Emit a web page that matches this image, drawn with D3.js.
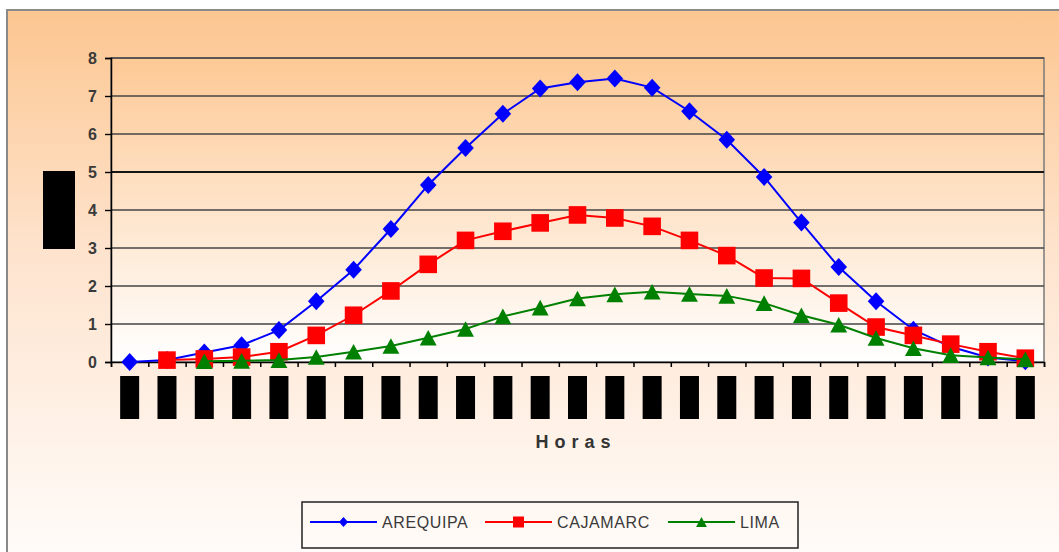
<!DOCTYPE html>
<html>
<head>
<meta charset="utf-8">
<script src="https://cdn.jsdelivr.net/npm/d3@7/dist/d3.min.js"></script>
<style>
  body { margin: 0; background: #fff; }
  svg { display: block; font-family: "Liberation Sans", Arial, sans-serif; }
</style>
</head>
<body>
<div id="viz"></div>
<script>
// hours of the day (the tick labels are blacked out in the source)
const hours = ['0', '1', '2', '3', '4', '5', '6', '7', '8', '9', '10', '11', '12',
    '13', '14', '15', '16', '17', '18', '19', '20', '21', '22', '23', '24'];

const arequipa = [0, 0.05, 0.25, 0.44, 0.84, 1.6, 2.43, 3.5, 4.66, 5.63, 6.53, 7.2, 7.36,
    7.46, 7.22, 6.6, 5.85, 4.87, 3.67, 2.5, 1.6, 0.85, 0.4, 0.12, 0.02];
const cajamarc = [null, 0.05, 0.08, 0.13, 0.27, 0.7, 1.23, 1.87, 2.57, 3.2, 3.44, 3.66, 3.87,
    3.79, 3.57, 3.2, 2.8, 2.21, 2.2, 1.55, 0.92, 0.7, 0.47, 0.27, 0.1];
const lima = [null, null, 0.02, 0.03, 0.05, 0.13, 0.27, 0.42, 0.64, 0.87, 1.2, 1.43, 1.67,
    1.78, 1.85, 1.79, 1.74, 1.55, 1.23, 0.98, 0.63, 0.36, 0.18, 0.12, 0.07];

const seriesNames = ['AREQUIPA', 'CAJAMARC', 'LIMA'];
const yTicks = [0, 1, 2, 3, 4, 5, 6, 7, 8];

const width = 1059, height = 552;
const plot = { left: 111, right: 1044, top: 58, bottom: 362 };

const series = [
    { name: seriesNames[0], values: arequipa, color: '#0000ff', marker: 'diamond' },
    { name: seriesNames[1], values: cajamarc, color: '#ff0000', marker: 'square' },
    { name: seriesNames[2], values: lima, color: '#008000', marker: 'triangle' }
];

const svg = d3.select('#viz')
    .append('svg')
    .attr('width', width)
    .attr('height', height);

const defs = svg.append('defs');
const outerGrad = defs.append('linearGradient')
    .attr('id', 'outerGrad').attr('x1', 0).attr('y1', 0).attr('x2', 0).attr('y2', 1);
outerGrad.append('stop').attr('offset', '0%').attr('stop-color', '#fcc690');
outerGrad.append('stop').attr('offset', '45%').attr('stop-color', '#fee4cf');
outerGrad.append('stop').attr('offset', '100%').attr('stop-color', '#fffcfa');

const plotGrad = defs.append('linearGradient')
    .attr('id', 'plotGrad').attr('x1', 0).attr('y1', 0).attr('x2', 0).attr('y2', 1);
plotGrad.append('stop').attr('offset', '0%').attr('stop-color', '#fdc995');
plotGrad.append('stop').attr('offset', '100%').attr('stop-color', '#ffffff');

// chart area
svg.append('rect')
    .attr('x', 7).attr('y', 10)
    .attr('width', width + 10).attr('height', height)
    .attr('fill', 'url(#outerGrad)')
    .attr('stroke', '#8a8a8a')
    .attr('stroke-width', 2);

// plot area
svg.append('rect')
    .attr('x', plot.left).attr('y', plot.top)
    .attr('width', plot.right - plot.left).attr('height', plot.bottom - plot.top)
    .attr('fill', 'url(#plotGrad)')
    .attr('stroke', '#7a7a7a')
    .attr('stroke-width', 1.5);

let xScale = d3.scaleLinear()
    .domain([0, hours.length])
    .range([plot.left, plot.right]);

let yScale = d3.scaleLinear()
    .domain([0, 8])
    .range([plot.bottom, plot.top]);

const xc = (i) => xScale(i + 0.5);

// gridlines
svg.append('g')
    .selectAll('line')
    .data(yTicks.filter(d => d > 0))
    .enter()
    .append('line')
    .attr('x1', plot.left).attr('x2', plot.right)
    .attr('y1', d => yScale(d)).attr('y2', d => yScale(d))
    .attr('stroke', d => d === 5 ? '#151515' : '#444')
    .attr('stroke-width', d => d === 5 ? 2 : 1.4);

// y axis
const yAxis = svg.append('g')
    .attr('transform', `translate(${plot.left},0)`)
    .call(d3.axisLeft(yScale).tickValues(yTicks).tickSize(6).tickPadding(8).tickFormat(d3.format('d')));
yAxis.select('.domain').attr('stroke', '#000').attr('stroke-width', 1.5);
yAxis.selectAll('.tick line').attr('stroke', '#000').attr('stroke-width', 1.4);
yAxis.selectAll('.tick text')
    .attr('fill', '#3a3a3a')
    .style('font-size', '16px')
    .style('font-weight', 'bold');

// x axis (ticks between categories)
const xAxis = svg.append('g')
    .attr('transform', `translate(0,${plot.bottom})`)
    .call(d3.axisBottom(xScale).ticks(hours.length).tickSize(5).tickFormat(''));
xAxis.select('.domain').attr('stroke', '#000').attr('stroke-width', 1.5);
xAxis.selectAll('.tick line').attr('stroke', '#000').attr('stroke-width', 1.5);

// blacked-out category labels
svg.append('g')
    .selectAll('rect')
    .data(hours)
    .enter()
    .append('rect')
    .attr('x', (d, i) => xc(i) - 9.5)
    .attr('y', 376)
    .attr('width', 19)
    .attr('height', 43)
    .attr('fill', '#000');

// blacked-out y axis title
svg.append('rect')
    .attr('x', 43).attr('y', 171)
    .attr('width', 32).attr('height', 78)
    .attr('fill', '#000');

svg.append('text')
    .attr('x', 576)
    .attr('y', 448)
    .attr('text-anchor', 'middle')
    .attr('fill', '#333')
    .style('font-size', '18px')
    .style('font-weight', 'bold')
    .style('letter-spacing', '6px')
    .text('Horas');

function markerPath(type, s) {
    if (type === 'diamond') {
        return `M0,${-s}L${s * 0.92},0L0,${s}L${-s * 0.92},0Z`;
    }
    if (type === 'square') {
        return `M${-s},${-s}H${s}V${s}H${-s}Z`;
    }
    return `M0,${-s}L${s * 1.08},${s}L${-s * 1.08},${s}Z`;
}
const markerSize = { diamond: 9, square: 8.8, triangle: 7.8 };

const line = d3.line()
    .defined(d => d !== null)
    .x((d, i) => xc(i))
    .y(d => yScale(d));

series.forEach(s => {
    const g = svg.append('g');
    g.append('path')
        .attr('d', line(s.values))
        .attr('fill', 'none')
        .attr('stroke', s.color)
        .attr('stroke-width', 2);
    g.selectAll('path.m')
        .data(s.values.map((v, i) => ({ v, i })).filter(d => d.v !== null))
        .enter()
        .append('path')
        .attr('class', 'm')
        .attr('transform', d => `translate(${xc(d.i)},${yScale(d.v)})`)
        .attr('d', markerPath(s.marker, markerSize[s.marker]))
        .attr('fill', s.color);
});

// legend
const legend = svg.append('g');
legend.append('rect')
    .attr('x', 302).attr('y', 502)
    .attr('width', 496).attr('height', 46)
    .attr('fill', 'none')
    .attr('stroke', '#222')
    .attr('stroke-width', 1.5);

const legendX = [310, 485, 668];
series.forEach((s, i) => {
    const lg = legend.append('g').attr('transform', `translate(${legendX[i]},522)`);
    lg.append('line')
        .attr('x1', 0).attr('x2', 67)
        .attr('stroke', s.color).attr('stroke-width', 2);
    lg.append('path')
        .attr('transform', 'translate(33.5,0)')
        .attr('d', markerPath(s.marker, s.marker === 'square' ? 5.5 : 5))
        .attr('fill', s.color);
    lg.append('text')
        .attr('x', 72)
        .attr('y', 6)
        .attr('fill', '#3a3a3a')
        .style('font-size', '16px')
        .style('letter-spacing', '0.6px')
        .text(s.name);
});
</script>
</body>
</html>
